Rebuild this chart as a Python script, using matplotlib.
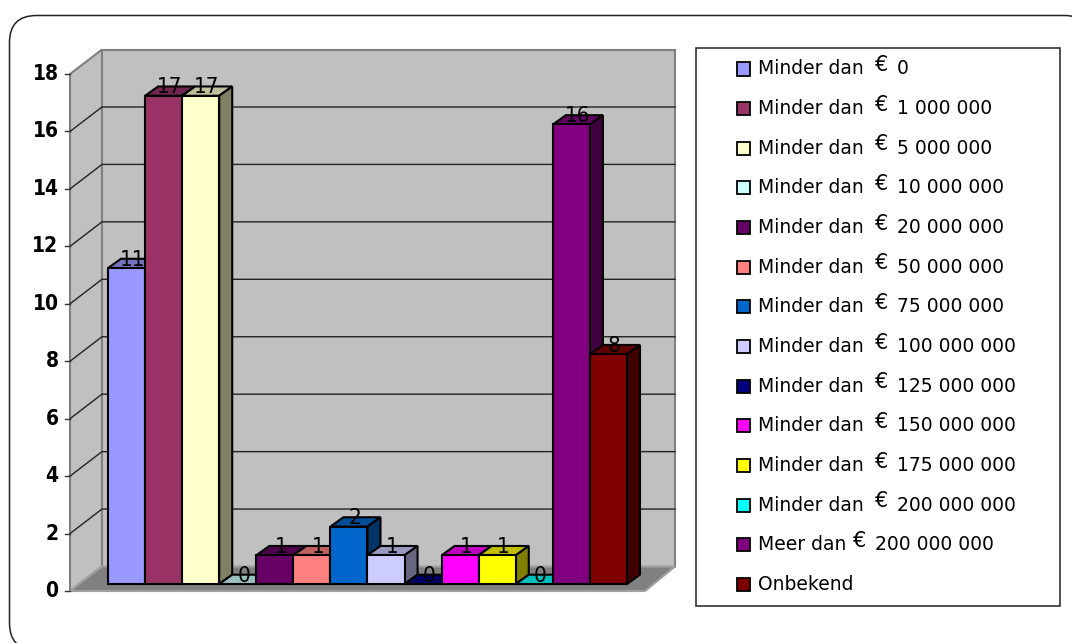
import matplotlib
matplotlib.use("Agg")
import matplotlib.pyplot as plt
from matplotlib.colors import to_rgb
from matplotlib.patches import FancyBboxPatch, Polygon, Rectangle

categories = ["Minder dan|0", "Minder dan|1 000 000", "Minder dan|5 000 000",
              "Minder dan|10 000 000", "Minder dan|20 000 000", "Minder dan|50 000 000",
              "Minder dan|75 000 000", "Minder dan|100 000 000", "Minder dan|125 000 000",
              "Minder dan|150 000 000", "Minder dan|175 000 000", "Minder dan|200 000 000",
              "Meer dan|200 000 000", "Onbekend"]
values = [11, 17, 17, 0, 1, 1, 2, 1, 0, 1, 1, 0, 16, 8]
colors = ["#9999FF", "#993366", "#FFFFCC", "#CCFFFF", "#660066", "#FF8080", "#0066CC",
          "#CCCCFF", "#000080", "#FF00FF", "#FFFF00", "#00FFFF", "#800080", "#800000"]
yticks = [0, 2, 4, 6, 8, 10, 12, 14, 16, 18]

W, H = 1072, 643
PX_X = 37.07   # pixels per category
PX_Y = 28.72   # pixels per unit of value
X0, Y0 = 108, 584   # where category 0, value 0 sits on the bar plane

fig = plt.figure(figsize=(W / 100, H / 100), dpi=100)
ax = fig.add_axes([0, 0, 1, 1])
ax.set_xlim(-X0 / PX_X, (W - X0) / PX_X)
ax.set_ylim((Y0 - H) / PX_Y, Y0 / PX_Y)
ax.axis("off")


def dx(px):
    return px / PX_X


def dy(px):
    return px / PX_Y


def to_x(px):
    return (px - X0) / PX_X


def to_y(px):
    return (Y0 - px) / PX_Y


def shade(c, f):
    return tuple(v * f for v in to_rgb(c))


# outer rounded frame, its right and bottom sides fall off the picture
frame = FancyBboxPatch((9.5, H - 650), 1082, 634.5, boxstyle="round,pad=0,rounding_size=27",
                       transform=None, fc="white", ec="#222222", lw=1.1, zorder=0)
fig.add_artist(frame)
ax.set_zorder(1)
ax.patch.set_alpha(0)

# value 0 of the front edge is below the bar plane, back wall is above it
front_x, back_x = to_x(70), to_x(102)
right_x, floor_r = to_x(675), to_x(645)
front_y = dy(Y0 - 591)
back_y = dy(Y0 - 566.5)
top = max(yticks)

ax.add_patch(Polygon([(front_x, front_y), (back_x, back_y), (back_x, back_y + top), (front_x, front_y + top)],
                     fc="#C0C0C0", ec="#808080", lw=1.5, zorder=1))
ax.add_patch(Polygon([(back_x, back_y), (right_x, back_y), (right_x, back_y + top), (back_x, back_y + top)],
                     fc="#C0C0C0", ec="#808080", lw=1.5, zorder=1))
ax.add_patch(Polygon([(front_x, front_y), (back_x, back_y), (right_x, back_y), (floor_r, front_y)],
                     fc="#808080", ec="#A0A0A0", lw=1.5, zorder=1))

for v in yticks:
    if v not in (0, top):
        ax.plot([front_x, back_x, right_x], [front_y + v, back_y + v, back_y + v],
                color="#222222", lw=1.0, zorder=2, solid_joinstyle="miter")
    ax.plot([to_x(65), front_x], [front_y + v, front_y + v], color="#333333", lw=1.0, zorder=2)
    ax.text(to_x(58.5), front_y + v, str(v), ha="right", va="center", fontsize=15,
            family="DejaVu Sans", stretch="condensed", fontweight="bold", color="black", zorder=3)

# bars, painted left to right so the next front covers the last side
ddx, ddy = dx(13), dy(9.3)
for i, (v, c) in enumerate(zip(values, colors)):
    ax.add_patch(Polygon([(i, v), (i + 1, v), (i + 1 + ddx, v + ddy), (i + ddx, v + ddy)],
                         fc=shade(c, 0.75), ec="black", lw=1.5, zorder=4 + i, joinstyle="miter"))
    if v > 0:
        ax.add_patch(Polygon([(i + 1, 0), (i + 1 + ddx, ddy), (i + 1 + ddx, v + ddy), (i + 1, v)],
                             fc=shade(c, 0.5), ec="black", lw=1.5, zorder=4 + i, joinstyle="miter"))
        ax.bar(i + 0.5, v, width=1, color=c, edgecolor="black", lw=1.5, zorder=4 + i)

for i, v in enumerate(values):
    ax.text(i + 0.5 + dx(6), v + dy(8.5), str(v), ha="center", va="center", fontsize=16,
            family="DejaVu Sans", stretch="condensed", color="black", zorder=30)

# legend
ax.add_patch(Rectangle((to_x(695.5), to_y(606)), dx(364), dy(558.5), fc="white", ec="#222222",
                       lw=1.1, zorder=3))
for i, (name, c) in enumerate(zip(categories, colors)):
    row = 69 + 39.65 * i
    ax.add_patch(Rectangle((to_x(737), to_y(row + 6.5)), dx(13), dy(13), fc=c, ec="black", lw=1.3, zorder=4))
    parts = name.split("|")
    ax.text(to_x(758), to_y(row), parts[0], ha="left", va="center", fontsize=13.5,
            family="DejaVu Sans", color="black", zorder=4)
    if len(parts) > 1:
        x_e = 758 + 10.6 * (len(parts[0]) + 1)
        ax.text(to_x(x_e), to_y(row - 4), "€", ha="left", va="center", fontsize=15,
                family="DejaVu Sans", color="black", zorder=4)
        ax.text(to_x(x_e + 22), to_y(row), parts[1], ha="left", va="center", fontsize=13.5,
                family="DejaVu Sans", color="black", zorder=4)

fig.savefig("out.png", dpi=100)
